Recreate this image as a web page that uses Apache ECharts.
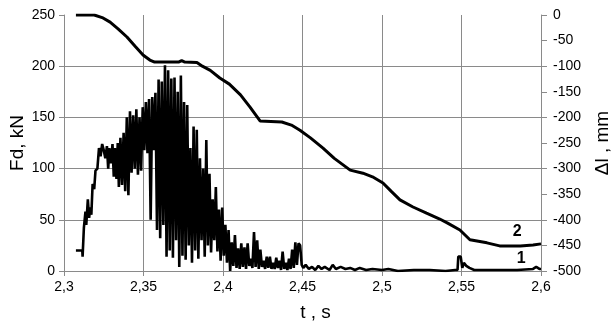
<!DOCTYPE html>
<html>
<head>
<meta charset="utf-8">
<script src="https://cdn.jsdelivr.net/npm/echarts@6/dist/echarts.min.js"></script>
<style>
    html, body { margin: 0; padding: 0; background: #fff; }
    #chart { width: 613px; height: 329px; }
</style>
</head>
<body>
<div id="chart"></div>
<script>
// data
// curve 1: force Fd, kN  [t, value]
var force1 = [
    [2.3075, 20], [2.3115, 20], [2.3117, 14], [2.3125, 42], [2.3135, 58], [2.3140, 45],
    [2.3150, 70], [2.3158, 52], [2.3165, 62], [2.3172, 55], [2.3180, 85], [2.3190, 80],
    [2.3198, 98], [2.3210, 100], [2.3220, 120], [2.3230, 112], [2.3240, 124], [2.3250, 118],
    [2.3260, 110], [2.3270, 122], [2.3278, 100], [2.3285, 120], [2.3295, 105], [2.3305, 124],
    [2.3313, 92], [2.3320, 120], [2.3330, 90], [2.3338, 125], [2.3345, 82], [2.3355, 130],
    [2.3365, 84], [2.3375, 135], [2.3385, 78], [2.3395, 150], [2.3405, 74], [2.3415, 156],
    [2.3425, 96], [2.3435, 152], [2.3445, 100], [2.3455, 158], [2.3465, 94], [2.3475, 150],
    [2.3485, 98], [2.3495, 160], [2.3505, 118], [2.3515, 165], [2.3525, 115], [2.3535, 168],
    [2.3545, 50], [2.3555, 170], [2.3565, 118], [2.3575, 174], [2.3585, 40], [2.3595, 187],
    [2.3605, 32], [2.3615, 185], [2.3625, 45], [2.3635, 201], [2.3645, 14], [2.3655, 196],
    [2.3665, 20], [2.3675, 188], [2.3685, 13], [2.3695, 189], [2.3705, 30], [2.3715, 175],
    [2.3725, 4], [2.3735, 191], [2.3745, 15], [2.3755, 165], [2.3765, 11], [2.3775, 162],
    [2.3785, 25], [2.3795, 120], [2.3805, 8], [2.3815, 141], [2.3825, 20], [2.3835, 138],
    [2.3845, 12], [2.3855, 110], [2.3865, 30], [2.3875, 100], [2.3885, 14], [2.3895, 128],
    [2.3905, 25], [2.3915, 95], [2.3925, 18], [2.3935, 70], [2.3945, 30], [2.3955, 82],
    [2.3965, 19], [2.3975, 60], [2.3985, 10], [2.3995, 62], [2.4005, 15], [2.4015, 45],
    [2.4025, 8], [2.4035, 40], [2.4045, 0], [2.4055, 28], [2.4065, 5], [2.4075, 35],
    [2.4085, 3], [2.4095, 22], [2.4105, 2], [2.4115, 27], [2.4125, 4], [2.4135, 23],
    [2.4145, 2], [2.4155, 27], [2.4165, 5], [2.4175, 12], [2.4185, 3], [2.4195, 38],
    [2.4205, 4], [2.4215, 30], [2.4225, 2], [2.4235, 21], [2.4245, 4], [2.4255, 10],
    [2.4265, 2], [2.4275, 14], [2.4285, 3], [2.4295, 14], [2.4305, 2], [2.4315, 8],
    [2.4325, 2], [2.4335, 13], [2.4345, 3], [2.4355, 10], [2.4365, 1], [2.4375, 19],
    [2.4385, 2], [2.4395, 8], [2.4405, 1], [2.4415, 12], [2.4425, 2], [2.4435, 21],
    [2.4445, 3], [2.4455, 28], [2.4465, 6], [2.4475, 27], [2.4485, 25], [2.4495, 6],
    [2.4505, 3], [2.452, 6], [2.454, 2], [2.456, 4], [2.458, 1], [2.46, 5], [2.462, 2],
    [2.464, 4], [2.467, 1], [2.469, 6], [2.471, 2], [2.474, 4], [2.477, 2], [2.48, 3],
    [2.483, 1], [2.486, 3], [2.49, 1], [2.494, 2], [2.5, 1], [2.504, 2], [2.51, 0],
    [2.52, 1], [2.53, 1], [2.54, 0], [2.546, 1], [2.5475, 1], [2.548, 14], [2.5495, 14],
    [2.5505, 3], [2.5515, 8], [2.553, 5], [2.555, 3], [2.558, 1], [2.57, 1], [2.585, 1],
    [2.595, 2], [2.597, 4], [2.599, 2], [2.6, 2]
];

// curve 2: displacement, mm  [t, value]
var disp2 = [
    [2.3075, 0], [2.319, 0], [2.324, -5], [2.329, -14], [2.334, -27], [2.3396, -43],
    [2.345, -62], [2.3497, -78], [2.354, -88], [2.357, -92], [2.372, -92], [2.374, -89],
    [2.376, -92], [2.3836, -93], [2.387, -100], [2.392, -108], [2.398, -123], [2.404, -135],
    [2.411, -156], [2.417, -180], [2.4233, -207], [2.437, -209], [2.443, -215], [2.4484, -225],
    [2.455, -240], [2.4629, -260], [2.47, -280], [2.48, -303], [2.488, -309], [2.494, -316],
    [2.5006, -328], [2.506, -345], [2.5113, -361], [2.5195, -375], [2.528, -387], [2.536, -398],
    [2.541, -406], [2.549, -420], [2.5553, -439], [2.566, -445], [2.574, -451], [2.587, -451],
    [2.595, -449], [2.6, -447]
];

var curveLabels = [
    { name: '1', coord: [2.5875, 12] },
    { name: '2', coord: [2.585, -423] }
];

var chart = echarts.init(document.getElementById('chart'));

var gridGray = '#8a8a8a';
var font = 'Liberation Sans, Arial, sans-serif';

var option = {
    animation: false,
    grid: { left: 64, right: 72, top: 15, bottom: 58, outerBoundsMode: 'none' },
    xAxis: {
        type: 'value',
        min: 2.3,
        max: 2.6,
        interval: 0.05,
        name: 't , s',
        nameLocation: 'middle',
        nameGap: 32,
        nameTextStyle: { fontSize: 19, fontFamily: font, color: '#000', padding: [0, 0, 0, 26] },
        axisLine: { lineStyle: { color: gridGray } },
        axisTick: { length: 5, lineStyle: { color: gridGray } },
        axisLabel: {
            fontSize: 14, fontFamily: font, color: '#000', margin: 9,
            formatter: function (v) { return String(+v.toFixed(2)).replace('.', ','); }
        },
        splitLine: { lineStyle: { color: gridGray } }
    },
    yAxis: [{
        type: 'value',
        min: 0,
        max: 250,
        interval: 50,
        name: 'Fd, kN',
        nameLocation: 'middle',
        nameGap: 37,
        nameMoveOverlap: false,
        nameTextStyle: { fontSize: 19, fontFamily: font, color: '#000' },
        axisLine: { show: true, lineStyle: { color: gridGray } },
        axisTick: { show: true, length: 5, lineStyle: { color: gridGray } },
        axisLabel: { fontSize: 14, fontFamily: font, color: '#000', margin: 9 },
        splitLine: { showMaxLine: false, lineStyle: { color: gridGray } }
    }, {
        type: 'value',
        min: -500,
        max: 0,
        interval: 50,
        name: 'Δl , mm',
        nameLocation: 'middle',
        nameGap: 52,
        nameRotate: 90,
        nameTextStyle: { fontSize: 19, fontFamily: font, color: '#000' },
        axisLine: { show: true, lineStyle: { color: gridGray } },
        axisTick: { show: true, length: 6, lineStyle: { color: gridGray } },
        axisLabel: { fontSize: 14, fontFamily: font, color: '#000', margin: 12 },
        splitLine: { show: false }
    }],
    series: [{
        name: '1',
        type: 'line',
        yAxisIndex: 0,
        data: force1,
        symbol: 'none',
        lineStyle: { color: '#000', width: 2.6 },
        markPoint: {
            symbol: 'circle', symbolSize: 0,
            label: { show: true, formatter: '{b}', color: '#000', fontSize: 16, fontWeight: 'bold', fontFamily: font },
            data: [curveLabels[0]]
        }
    }, {
        name: '2',
        type: 'line',
        yAxisIndex: 1,
        data: disp2,
        symbol: 'none',
        lineStyle: { color: '#000', width: 3 },
        markPoint: {
            symbol: 'circle', symbolSize: 0,
            label: { show: true, formatter: '{b}', color: '#000', fontSize: 16, fontWeight: 'bold', fontFamily: font },
            data: [curveLabels[1]]
        }
    }]
};
chart.setOption(option);
</script>
</body>
</html>
